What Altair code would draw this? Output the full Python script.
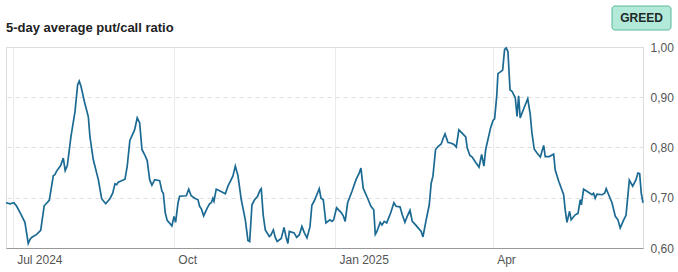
import altair as alt
import pandas as pd

# Days since 2024-07-01 and 5-day average put/call ratio
day_offsets = [
    -3.8, -1.5, 0.7, 2.3, 4.6, 7.0, 8.9, 9.9, 10.8, 13.7, 16.0, 18.0, 20.9, 23.2, 24.1, 25.1,
    27.4, 28.9, 30.0, 31.2, 33.3, 35.6, 37.1, 38.0, 39.0, 40.9, 43.2, 44.1, 46.0, 48.9, 50.8,
    53.1, 55.5, 57.1, 58.4, 59.4, 60.3, 64.1, 65.4, 66.9,
    69.6, 71.1, 72.5, 73.8, 75.3, 76.8, 78.2, 79.5, 81.1, 83.9, 85.2, 86.0, 87.1, 88.2, 90.9,
    92.1, 93.0, 94.4, 95.3, 99.1, 100.5, 101.9, 103.9, 105.8, 106.7, 107.7, 109.0, 111.1,
    112.4, 113.4, 114.3, 114.9, 116.2, 118.7, 121.4, 122.9, 125.7, 127.1, 128.6, 130.5, 132.8,
    134.3, 135.3, 136.6, 138.1,
    139.8, 141.2, 141.9, 143.0, 144.2, 146.5, 147.3, 148.8, 149.9, 151.0, 153.3, 154.9, 156.0,
    157.1, 157.9, 160.7, 162.1, 163.6, 165.1, 166.4, 168.0, 169.7, 170.8, 172.2, 175.0, 176.0,
    177.3, 178.8, 181.1, 182.3, 183.2, 184.9, 187.4, 188.7, 189.8, 191.2, 193.7, 196.0, 197.8,
    198.8, 200.1, 202.6, 204.5, 206.1, 207.0, 207.8, 209.8, 210.8, 212.1,
    213.5, 215.8, 217.6, 218.8, 221.1, 222.4, 223.9, 225.2, 226.8, 228.1, 230.0, 231.9, 233.2,
    234.2, 235.7, 237.8, 238.9, 239.9, 241.4, 242.8, 244.6, 245.8, 246.8, 248.5, 250.0, 251.9,
    253.2, 254.7, 257.2, 258.6, 259.5, 261.0, 262.3, 264.3, 266.2, 267.7, 269.0, 270.0, 272.8,
    274.2, 275.1, 276.3, 277.0, 278.2, 279.7, 280.8, 281.7, 282.7, 283.9, 285.0,
    286.9, 287.9, 288.8, 289.7, 291.7, 294.0, 295.4, 296.4, 297.7, 299.3, 301.2, 303.1, 304.0,
    306.3, 308.8, 309.7, 311.7, 314.5, 315.4, 316.4, 317.9, 318.8, 321.1, 322.7, 324.0, 324.6,
    325.9, 327.8, 330.7, 331.6, 332.5, 333.5, 336.4, 337.9, 338.8, 340.2, 342.1, 344.0, 345.5,
    346.8, 348.8, 350.1, 352.0, 353.9, 355.8, 356.9, 357.9, 358.8, 359.8,
]
ratios = [
    0.690, 0.688, 0.690, 0.683, 0.668, 0.651, 0.609, 0.617, 0.621, 0.627, 0.635, 0.684, 0.695,
    0.744, 0.746, 0.753, 0.764, 0.779, 0.754, 0.764, 0.822, 0.872, 0.925, 0.932, 0.922, 0.892,
    0.861, 0.822, 0.776, 0.736, 0.698, 0.688, 0.698, 0.709, 0.728, 0.726, 0.731, 0.737, 0.763,
    0.814,
    0.835, 0.859, 0.849, 0.796, 0.786, 0.774, 0.736, 0.725, 0.736, 0.734, 0.713, 0.709, 0.670,
    0.655, 0.644, 0.663, 0.651, 0.690, 0.703, 0.704, 0.717, 0.704, 0.699, 0.696, 0.683, 0.678,
    0.664, 0.680, 0.688, 0.690, 0.699, 0.693, 0.717, 0.713, 0.708, 0.723, 0.743, 0.763, 0.744,
    0.696, 0.656, 0.615, 0.613, 0.686, 0.696,
    0.703, 0.715, 0.718, 0.666, 0.636, 0.623, 0.625, 0.636, 0.621, 0.613, 0.619, 0.641, 0.623,
    0.609, 0.633, 0.630, 0.621, 0.626, 0.643, 0.631, 0.620, 0.642, 0.685, 0.694, 0.718, 0.699,
    0.696, 0.650, 0.656, 0.653, 0.656, 0.680, 0.671, 0.664, 0.653, 0.690, 0.713, 0.736, 0.749,
    0.759, 0.719, 0.699, 0.683, 0.676, 0.627, 0.632, 0.651, 0.646, 0.653,
    0.650, 0.670, 0.690, 0.683, 0.682, 0.666, 0.651, 0.663, 0.675, 0.653, 0.646, 0.638, 0.633,
    0.622, 0.650, 0.686, 0.729, 0.743, 0.796, 0.802, 0.807, 0.819, 0.827, 0.810, 0.809, 0.806,
    0.801, 0.835, 0.826, 0.821, 0.799, 0.784, 0.781, 0.770, 0.761, 0.786, 0.763, 0.796, 0.839,
    0.854, 0.857, 0.902, 0.947, 0.950, 0.954, 0.995, 0.998, 0.991, 0.915, 0.912,
    0.899, 0.862, 0.903, 0.859, 0.877, 0.897, 0.867, 0.829, 0.797, 0.789, 0.781, 0.804, 0.782,
    0.782, 0.787, 0.755, 0.733, 0.706, 0.676, 0.651, 0.673, 0.656, 0.666, 0.669, 0.696, 0.686,
    0.717, 0.713, 0.706, 0.709, 0.699, 0.707, 0.706, 0.709, 0.718, 0.706, 0.690, 0.663, 0.656,
    0.640, 0.656, 0.665, 0.735, 0.723, 0.736, 0.749, 0.748, 0.709, 0.690,
]
y_ticks = [0.6, 0.7, 0.8, 0.9, 1.0]
title_text = "5-day average put/call ratio"
badge_text = "GREED"

dates = pd.Timestamp("2024-07-01") + pd.to_timedelta(day_offsets, unit="D")
df = pd.DataFrame({"date": dates, "ratio": ratios})

x_ticks = [
    alt.DateTime(year=2024, month=7, date=1),
    alt.DateTime(year=2024, month=10, date=1),
    alt.DateTime(year=2025, month=1, date=1),
    alt.DateTime(year=2025, month=4, date=1),
]

FONT = "Liberation Sans"

line = alt.Chart(df).mark_line(color="#1b6a93", strokeWidth=1.7, interpolate="linear").encode(
    x=alt.X(
        "date:T",
        scale=alt.Scale(nice=False),
        axis=alt.Axis(
            title=None,
            values=x_ticks,
            labelExpr="(month(datum.value) == 0 || (year(datum.value) == 2024 && month(datum.value) == 6)) ? timeFormat(datum.value, '%b %Y') : timeFormat(datum.value, '%b')",
            labelAlign="left",
            labelBaseline="top",
            labelPadding=6,
            labelOffset=4,
            labelFont=FONT,
            labelFontSize=12,
            labelColor="#555555",
            ticks=False,
            domain=True,
            domainColor="#999999",
            domainWidth=1,
            grid=True,
            gridColor="#ebebeb",
            gridWidth=1,
        ),
    ),
    y=alt.Y(
        "ratio:Q",
        scale=alt.Scale(domain=[0.6, 1.0], nice=False, zero=False),
        axis=alt.Axis(
            title=None,
            orient="right",
            values=y_ticks,
            labelExpr="replace(format(datum.value, '.2f'), '.', ',')",
            labelFont=FONT,
            labelFontSize=12,
            labelColor="#555555",
            labelPadding=7,
            ticks=False,
            domain=False,
            grid=True,
            gridColor="#dddddd",
            gridDash={"condition": {"test": "datum.value >= 0.99 || datum.value <= 0.61", "value": []}, "value": [4, 4]},
        ),
    ),
)

title = alt.Chart(pd.DataFrame({"t": [title_text]})).mark_text(
    align="left", baseline="alphabetic", font=FONT, fontSize=13, fontWeight="bold", color="#222222"
).encode(x=alt.value(0), y=alt.value(-15), text="t:N")

badge_box = alt.Chart(pd.DataFrame({"t": [badge_text]})).mark_rect(
    fill="#b3e9d8", stroke="#56b89a", strokeWidth=1, cornerRadius=3
).encode(x=alt.value(606), x2=alt.value(665), y=alt.value(-41), y2=alt.value(-17))

badge_label = alt.Chart(pd.DataFrame({"t": [badge_text]})).mark_text(
    align="center", baseline="middle", font=FONT, fontSize=12, fontWeight="bold", color="#1e2a28"
).encode(x=alt.value(635.5), y=alt.value(-29), text="t:N")

chart = alt.layer(line, title, badge_box, badge_label).properties(
    width=637,
    height=201,
    padding={"left": 6, "top": 47, "right": 35, "bottom": 24},
    autosize=alt.AutoSizeParams(type="none"),
).configure_view(stroke=None).configure(background="white")

chart.save("out.html", embed_options={"renderer": "svg", "actions": False})
